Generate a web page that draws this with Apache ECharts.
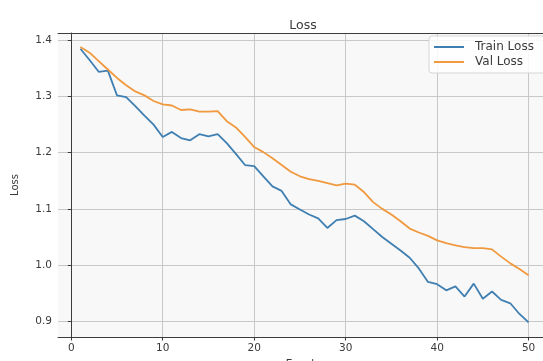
<!DOCTYPE html>
<html>
<head>
<meta charset="utf-8">
<title>Loss</title>
<script src="https://cdn.jsdelivr.net/npm/echarts@6/dist/echarts.min.js"></script>
<style>
  html, body { margin: 0; padding: 0; background: #ffffff; }
  #chart { width: 543px; height: 361px; }
</style>
</head>
<body>
<div id="chart"></div>
<script>
// Training history: one loss value per epoch
const epochs = [1, 2, 3, 4, 5, 6, 7, 8, 9, 10,
  11, 12, 13, 14, 15, 16, 17, 18, 19, 20,
  21, 22, 23, 24, 25, 26, 27, 28, 29, 30,
  31, 32, 33, 34, 35, 36, 37, 38, 39, 40,
  41, 42, 43, 44, 45, 46, 47, 48, 49, 50];

const trainLoss = [1.385, 1.365, 1.344, 1.346, 1.302, 1.299, 1.283, 1.266, 1.250, 1.228,
  1.237, 1.226, 1.222, 1.233, 1.229, 1.233, 1.217, 1.198, 1.178, 1.176,
  1.158, 1.140, 1.132, 1.108, 1.099, 1.090, 1.083, 1.066, 1.080, 1.082,
  1.088, 1.078, 1.064, 1.050, 1.038, 1.026, 1.013, 0.994, 0.970, 0.966,
  0.955, 0.962, 0.944, 0.967, 0.940, 0.953, 0.938, 0.932, 0.913, 0.898];

const valLoss = [1.388, 1.378, 1.363, 1.348, 1.333, 1.320, 1.309, 1.302, 1.292, 1.286,
  1.284, 1.276, 1.277, 1.273, 1.273, 1.274, 1.256, 1.245, 1.228, 1.210,
  1.201, 1.190, 1.178, 1.166, 1.158, 1.153, 1.150, 1.146, 1.142, 1.145,
  1.143, 1.130, 1.112, 1.100, 1.090, 1.078, 1.065, 1.058, 1.052, 1.044,
  1.039, 1.035, 1.032, 1.030, 1.030, 1.028, 1.015, 1.003, 0.993, 0.982];

const xTicks = [0, 10, 20, 30, 40, 50];
const yTicks = [0.9, 1.0, 1.1, 1.2, 1.3, 1.4];

const FONT = 'DejaVu Sans';
const TEXT = '#3a3a3a';
const SPINE = '#3c3c3c';
const GRID_LINE = '#c8c8c8';
const X_RANGE = { min: -1.45, max: 52.45 };

const pairs = (xs, ys) => xs.map((x, i) => [x, ys[i]]);

const chart = echarts.init(document.getElementById('chart'), null, { renderer: 'canvas' });

chart.setOption({
  animation: false,
  backgroundColor: '#ffffff',
  textStyle: { fontFamily: FONT },
  title: {
    text: 'Loss',
    left: 298,
    top: 14,
    textAlign: 'center',
    textStyle: { fontFamily: FONT, fontSize: 12.5, fontWeight: 'normal', color: TEXT }
  },
  grid: {
    left: 58,
    top: 33,
    width: 493,
    height: 304,
    outerBoundsMode: 'none',
    show: true,
    backgroundColor: '#f8f8f8',
    borderWidth: 0
  },
  legend: {
    orient: 'vertical',
    left: 429,
    top: 36,
    padding: [5, 16, 5, 5],
    itemGap: 3,
    itemWidth: 30,
    itemHeight: 2,
    icon: 'rect',
    backgroundColor: 'rgba(255,255,255,0.85)',
    borderColor: '#d6d6d6',
    borderWidth: 1,
    borderRadius: 3,
    textStyle: { fontFamily: FONT, fontSize: 12, color: TEXT, padding: [0, 0, 0, 6] },
    data: ['Train Loss', 'Val Loss']
  },
  xAxis: [
    {
      type: 'value',
      position: 'bottom',
      ...X_RANGE,
      name: 'Epochs',
      nameLocation: 'middle',
      nameGap: 21,
      nameTextStyle: { fontFamily: FONT, fontSize: 10.5, color: TEXT },
      axisLine: { show: true, onZero: false, lineStyle: { color: SPINE, width: 1 } },
      axisTick: { show: true, customValues: xTicks, length: 3.5, lineStyle: { color: SPINE } },
      axisLabel: { customValues: xTicks, fontFamily: FONT, fontSize: 10.5, color: TEXT, margin: 6 },
      splitLine: { show: true, lineStyle: { color: GRID_LINE, width: 1 } }
    },
    {
      // top spine only
      type: 'value',
      position: 'top',
      ...X_RANGE,
      axisLine: { show: true, onZero: false, lineStyle: { color: SPINE, width: 1 } },
      axisTick: { show: false },
      axisLabel: { show: false },
      splitLine: { show: false }
    }
  ],
  yAxis: {
    type: 'value',
    min: 0.872,
    max: 1.413,
    name: 'Loss',
    nameLocation: 'middle',
    nameGap: 38,
    nameRotate: 90,
    nameTextStyle: { fontFamily: FONT, fontSize: 10, color: TEXT },
    axisLine: { show: true, lineStyle: { color: SPINE, width: 1 } },
    axisTick: { show: true, customValues: yTicks, length: 3.5, lineStyle: { color: SPINE } },
    axisLabel: {
      customValues: yTicks, fontFamily: FONT, fontSize: 10.5, color: TEXT, margin: 6,
      formatter: v => v.toFixed(1)
    },
    splitLine: { show: true, lineStyle: { color: GRID_LINE, width: 1 } }
  },
  series: [
    {
      name: 'Train Loss',
      type: 'line',
      xAxisIndex: 0,
      data: pairs(epochs, trainLoss),
      symbol: 'none',
      lineStyle: { color: '#3f7fb1', width: 1.8 },
      itemStyle: { color: '#3f7fb1' }
    },
    {
      name: 'Val Loss',
      type: 'line',
      xAxisIndex: 0,
      data: pairs(epochs, valLoss),
      symbol: 'none',
      lineStyle: { color: '#f0993f', width: 1.8 },
      itemStyle: { color: '#f0993f' }
    }
  ]
});
</script>
</body>
</html>
